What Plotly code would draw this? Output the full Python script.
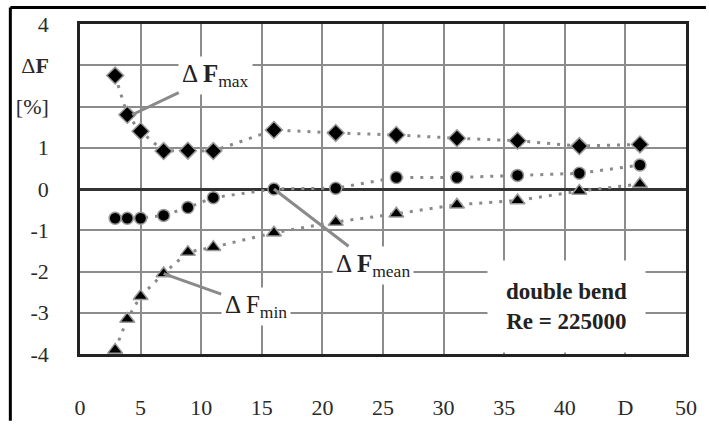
import plotly.graph_objects as go

# ---- data ----
d_values = [2.9, 3.9, 5.0, 6.9, 8.9, 11.0, 16.0, 21.1, 26.1, 31.1, 36.1, 41.2, 46.2]
df_max = [2.75, 1.80, 1.40, 0.92, 0.93, 0.92, 1.43, 1.36, 1.31, 1.23, 1.17, 1.04, 1.08]
df_mean = [-0.71, -0.71, -0.71, -0.64, -0.45, -0.21, 0.00, 0.02, 0.28, 0.28, 0.33, 0.38, 0.58]
df_min = [-3.90, -3.15, -2.60, -2.05, -1.53, -1.41, -1.06, -0.80, -0.60, -0.38, -0.28, -0.05, 0.12]

x_tickvals = [0, 5, 10, 15, 20, 25, 30, 35, 40, 45, 50]
x_ticktext = ["0", "5", "10", "15", "20", "25", "30", "35", "40", "D", "50"]
y_tickvals = [-4, -3, -2, -1, 0, 1, 2, 3, 4]
y_ticktext = ["-4", "-3", "-2", "-1", "0", "1", "[%]", "Δ<b>F</b>", "4"]

FONT = "Liberation Serif, DejaVu Serif, serif"
W, H = 709, 432
L, R, T, B = 80, 20, 22, 69
pw, ph = W - L - R, H - T - B

fig = go.Figure()

series = [
    (df_max, "diamond", 13),
    (df_mean, "circle", 12),
    (df_min, "triangle-up", 13),
]
for vals, sym, sz in series:
    fig.add_trace(go.Scatter(
        x=d_values, y=vals, mode="lines+markers",
        line=dict(color="#8a8a8a", width=3, dash="3px,7px"),
        marker=dict(symbol=sym, size=sz, color="#000000",
                    line=dict(color="#9a9a9a", width=1.5)),
        showlegend=False, hoverinfo="skip",
    ))

ann_font = dict(family=FONT, size=25, color="#222")
annotations = [
    dict(x=d_values[1] + 0.4, y=df_max[1], ax=11.2, ay=2.76,
         text="Δ <b>F</b><sub>max</sub>"),
    dict(x=d_values[6], y=df_mean[6], ax=24.2, ay=-1.85,
         text="Δ <b>F</b><sub>mean</sub>"),
    dict(x=d_values[3], y=df_min[3], ax=14.5, ay=-2.85,
         text="Δ F<sub>min</sub>"),
]
for a in annotations:
    fig.add_annotation(
        x=a["x"], y=a["y"], ax=a["ax"], ay=a["ay"],
        xref="x", yref="y", axref="x", ayref="y",
        text=a["text"], showarrow=True, arrowhead=0, arrowwidth=3,
        arrowcolor="#8a8a8a", font=ann_font, bgcolor="white", borderpad=3,
    )

fig.add_annotation(
    x=40.1, y=-2.86, xref="x", yref="y", showarrow=False,
    text="<b>double bend</b><br><b>Re = 225000</b>",
    font=dict(family=FONT, size=23, color="#222"),
    bgcolor="white", borderpad=18, align="center",
)

# outer frame (top and left lines)
x0p = (10 - L) / pw
y0p = (H - B - 5) / ph
fig.add_shape(type="line", xref="paper", yref="paper",
              x0=x0p, x1=(W - L) / pw, y0=y0p, y1=y0p,
              line=dict(color="black", width=3))
fig.add_shape(type="line", xref="paper", yref="paper",
              x0=x0p, x1=x0p, y0=y0p, y1=-B / ph,
              line=dict(color="black", width=3))

axis_common = dict(
    showgrid=True, gridcolor="#8c8c8c", gridwidth=1.5,
    showline=True, linecolor="#222", linewidth=2.5, mirror=True,
    ticks="", tickfont=dict(family=FONT, size=22, color="#2a2a2a"),
)
fig.update_xaxes(range=[0, 50], tickmode="array", tickvals=x_tickvals,
                 ticktext=x_ticktext, zeroline=False,
                 ticklabelstandoff=32, **axis_common)
fig.update_yaxes(range=[-4, 4], tickmode="array", tickvals=y_tickvals,
                 ticktext=y_ticktext, zeroline=True, zerolinecolor="#333",
                 zerolinewidth=2.5, ticklabelstandoff=24, **axis_common)

fig.update_layout(
    width=W, height=H,
    margin=dict(l=L, r=R, t=T, b=B),
    paper_bgcolor="white", plot_bgcolor="white",
    font=dict(family=FONT),
)

fig.write_html("out.html")
